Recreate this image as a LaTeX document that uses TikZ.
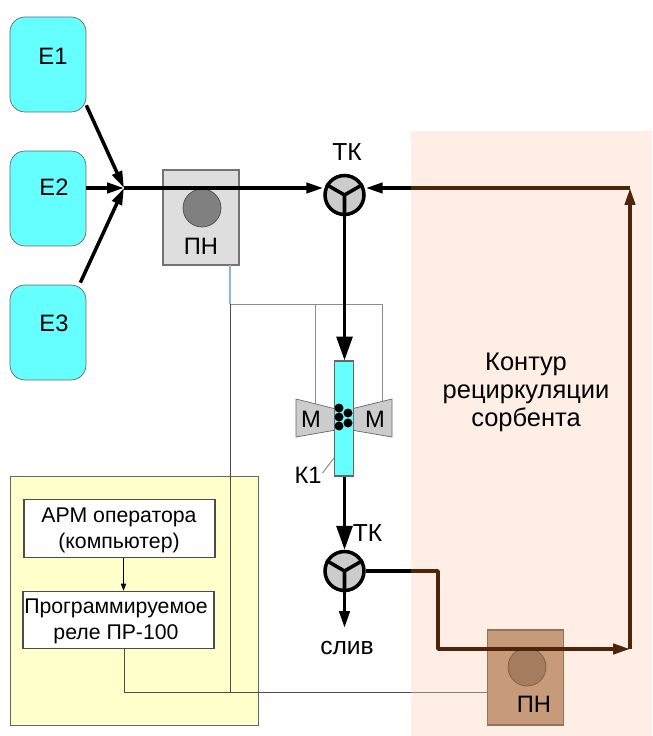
\documentclass[tikz,border=0pt]{standalone}
\usepackage{fontspec}
\setmainfont{Liberation Sans}
\usetikzlibrary{calc,arrows.meta}
\definecolor{tankcyan}{HTML}{66FFFF}
\definecolor{zonepink}{HTML}{FEEEE5}
\definecolor{zoneyellow}{HTML}{FFFFCC}
\definecolor{pipebrown}{HTML}{4F2408}
\definecolor{pumpbrown}{HTML}{C79A7A}
\definecolor{wheelbrown}{HTML}{A67C5E}
\definecolor{wireblue}{HTML}{8DB4E8}
\tikzset{
  tank/.style={draw=black!60,fill=tankcyan,rounded corners=8.5pt,minimum width=1.52cm,minimum height=1.9cm,inner sep=0pt},
  pump/.style={draw=black!55,line width=.7pt,fill=black!13,minimum width=1.52cm,minimum height=1.9cm,inner sep=0pt},
  valve/.style={circle,draw,line width=2pt,fill=black!20,minimum size=.78cm,inner sep=0pt},
  ctrlbox/.style={draw=black!70,line width=.6pt,fill=white,minimum width=3.82cm,minimum height=1.15cm,inner sep=0pt},
  ctrltext/.style={inner sep=0pt,align=center,font=\fontsize{12.1pt}{14.7pt}\selectfont},
  pipe/.style={line width=2pt,-{Triangle[length=9.6pt,width=5.8pt]}},
  bigpipe/.style={line width=2pt,-{Triangle[length=13.6pt,width=9pt]}},
  wire/.style={line width=.55pt,draw=black!45},
  lbl/.style={inner sep=0pt,font=\fontsize{13.5pt}{15.9pt}\selectfont}
}
\def\drawValve#1#2{
\node[valve] (#1) at (#2) {};
\draw[line width=2pt] (#1.center) -- (#1.south) (#1.center) -- (#1.30) (#1.center) -- (#1.150);
}
\begin{document}
\begin{tikzpicture}[x=.02cm,y=-.02cm]
  \useasboundingbox (0,0) rectangle (652,736);
  \fill[white] (0,0) rectangle (652,736);
  \fill[zonepink] (411,131) rectangle (652,736);
  \draw[draw=black!60,fill=zoneyellow] (10,476) rectangle (258,725);
  % tanks
  \node[tank] (E1) at (48,64.5) {};
  \node[tank] (E2) at (48,198.5) {};
  \node[tank] (E3) at (48,332.5) {};
  \node[lbl] (E1lbl) at (53,56) {Е1};
  \node[lbl] (E2lbl) at (54,187) {Е2};
  \node[lbl] (E3lbl) at (54,323) {Е3};
  \coordinate (J) at (124,188);
  % pumps
  \node[pump] (PN1) at (201,217.5) {};
  \draw[draw=black!70,fill=black!50] (202,208) circle (.38cm);
  \node[lbl] (PN1lbl) at (201,246) {ПН};
  \node[pump,fill=pumpbrown,draw=pumpbrown!75!black] (PN2) at (525.5,677.5) {};
  \draw[draw=wheelbrown!75!black,fill=wheelbrown] (527,667) circle (.38cm);
  \node[lbl] (PN2lbl) at (534,704) {ПН};
  % control wires
  \coordinate (W0) at (230,265);
  \coordinate (W1) at (230,304);
  \coordinate (W2) at (230,692);
  \draw[line width=.6pt,draw=wireblue] (W0) -- (W1);
  \draw[wire] (W1) -- (382.5,304) -- (382.5,402);
  \draw[wire] (315,304) -- (315,407);
  \draw[wire,draw=black!70] (W1) -- (W2);
  % mixer
  \draw[draw=black!60,fill=black!20] (296,399) -- (336,409) -- (336,430) -- (296,437) -- cycle;
  \draw[draw=black!60,fill=black!20] (392,399) -- (351,409) -- (351,430) -- (392,437) -- cycle;
  \node[lbl] (M1) at (311,419) {М};
  \node[lbl] (M2) at (375,419) {М};
  \node[draw=black!60,line width=.7pt,fill=tankcyan,minimum width=.38cm,minimum height=2.3cm,inner sep=0pt] (K1) at (344,418.5) {};
  \foreach \x/\y in {339/408,339/417,339/426,348/413,348/423}
    \fill (\x,\y) circle (.09cm);
  \node[lbl] (K1lbl) at (308,475) {К1};
  \draw[wire] (322.5,473) -- (334,458);
  % pipes
  \drawValve{V1}{344.5,195}
  \drawValve{V2}{344.5,571}
  \draw[pipe] (E1.south east) ++(0,-7) -- (J);
  \draw[pipe] (E2.east |- J) -- (J);
  \draw[pipe] (E3.north east) ++(-6,-2) -- (J);
  \draw[pipe] (J) -- (V1.west |- J);
  \draw[bigpipe] (V1.south) -- (V1.south |- K1.north);
  \draw[bigpipe] (V2.north |- K1.south) -- (V2.north);
  \draw[pipe] (V2.south) -- (344.5,628);
  \coordinate (B1) at (411,571);
  \coordinate (B2) at (438,571);
  \coordinate (B3) at (438,649);
  \coordinate (B4) at (630,649);
  \coordinate (B5) at (630,188);
  \coordinate (B6) at (411,188);
  \draw[line width=2pt] (V2.east) -- (B1);
  \draw[pipe,draw=pipebrown,line join=round] (B1) -- (B2) -- (B3) -- (B4);
  \draw[pipe,draw=pipebrown] (B4) -- (B5);
  \draw[line width=2pt,draw=pipebrown] (B5) -- (B6);
  \draw[pipe] (B6) -- (V1.east |- B6);
  \node[lbl,font=\fontsize{14pt}{16pt}\selectfont] (TK1) at (347,152) {ТК};
  \node[lbl,font=\fontsize{14pt}{16pt}\selectfont] (TK2) at (367.5,533) {ТК};
  \node[lbl,font=\fontsize{14pt}{16pt}\selectfont] (DR) at (347,648) {слив};
  % control room
  \node[ctrlbox] (ARM) at (119.5,528.5) {};
  \node[ctrlbox] (REL) at (118.5,620) {};
  \node[ctrltext] (ARMlbl) at (119,530) {АРМ оператора\\(компьютер)};
  \node[ctrltext] (RELlbl) at (116,621) {Программируемое\\реле ПР-100};
  \draw[line width=.4pt,-{Triangle[length=4pt,width=3pt]}] (ARM.south -| 123.5,0) -- (REL.north -| 123.5,0);
  \draw[wire,draw=black!70] (REL.south -| 124,0) -- (124,692) -- (B1 |- W2);
  \draw[wire,draw=pumpbrown!80!black] (B1 |- W2) -- (PN2.west |- W2);
  \node[lbl,align=center,font=\fontsize{14.5pt}{15.9pt}\selectfont] (ZN) at (526,392) {Контур\\рециркуляции\\сорбента};
\end{tikzpicture}
\end{document}
